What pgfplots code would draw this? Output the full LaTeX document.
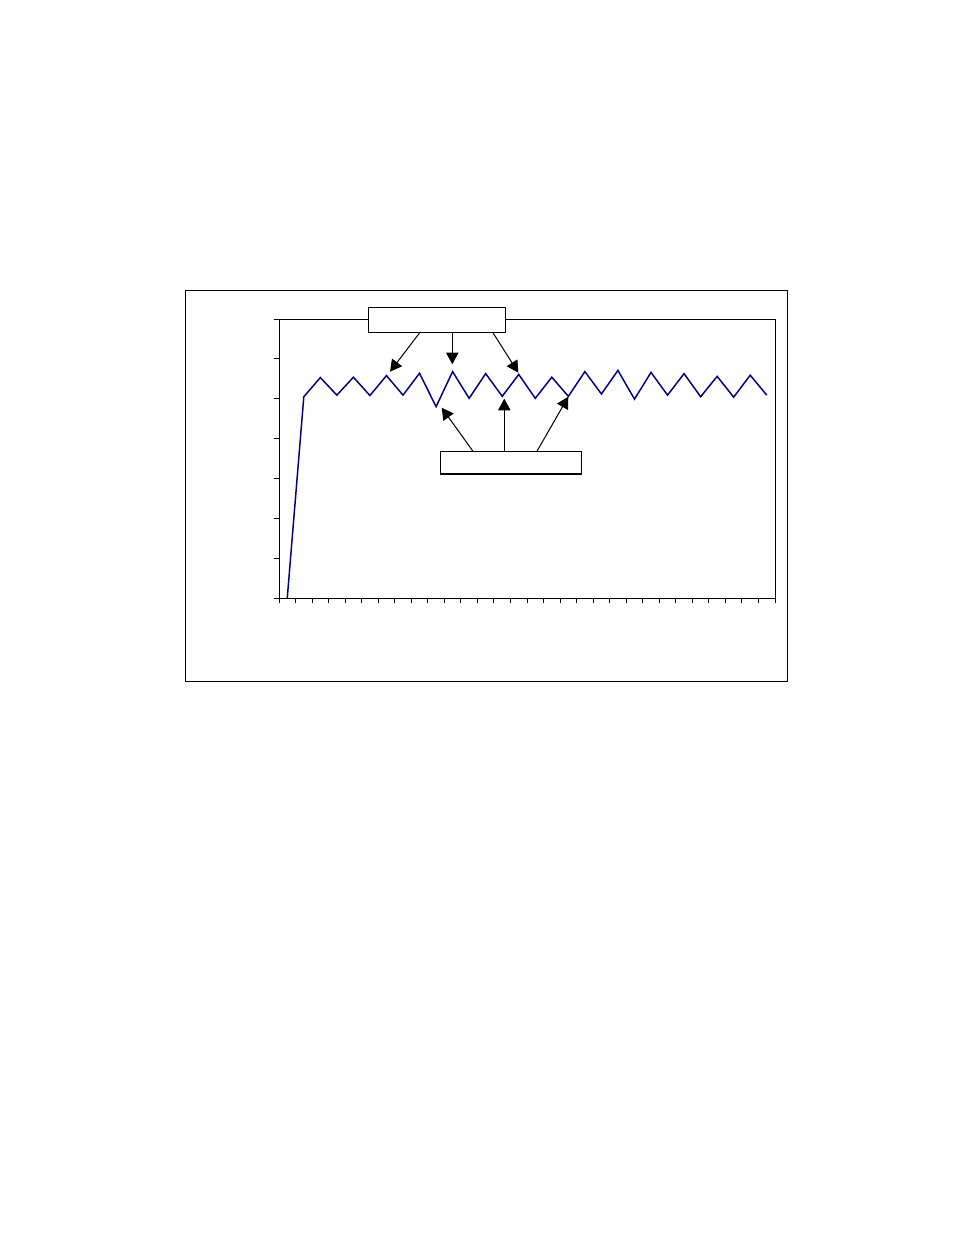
\documentclass[border=0pt]{standalone}
\usepackage{pgfplots}
\pgfplotsset{compat=1.18}
\usetikzlibrary{arrows.meta}
\definecolor{navyline}{RGB}{0,0,128}
\begin{document}
\begin{tikzpicture}
% page background and outer chart frame, in page pixels
\begin{scope}[x=0.641509bp,y=-0.641509bp]
\fill[white] (0,0) rectangle (954,1235);
\draw[line width=0.7bp] (185.5,290.5) rectangle (787.5,681.5);
\end{scope}
\begin{axis}[
at={(178.98bp,-383.62bp)},
anchor=south west,
scale only axis,
width=318.19bp,
height=178.98bp,
xmin=0, xmax=30,
ymin=0, ymax=7,
xtick={0,...,30},
ytick={0,...,7},
xticklabels={},
yticklabels={},
xtick pos=left,
ytick pos=left,
tick align=outside,
major tick length=3.5bp,
axis line style={line width=0.6bp},
every tick/.style={line width=0.6bp,black},
clip=false,
]
\addplot[navyline,line width=0.95bp] coordinates {
(0.5,0) (1.5,5.05) (2.5,5.53) (3.5,5.09) (4.5,5.54) (5.5,5.08)
(6.5,5.58) (7.5,5.09) (8.5,5.64) (9.5,4.80) (10.5,5.68) (11.5,5.01)
(12.5,5.63) (13.5,5.06) (14.5,5.61) (15.5,5.01) (16.5,5.54) (17.5,5.06)
(18.5,5.68) (19.5,5.12) (20.5,5.71) (21.5,4.99) (22.5,5.66) (23.5,5.09)
(24.5,5.63) (25.5,5.05) (26.5,5.56) (27.5,5.04) (28.5,5.59) (29.5,5.09)
};
\end{axis}
% annotation boxes and arrows, in page pixels
\begin{scope}[x=0.641509bp,y=-0.641509bp,line width=0.65bp,
  >={Triangle[length=7.5bp,width=8bp]}]
\draw[fill=white] (368.3,307.3) rectangle (505,332.3);
\draw[fill=white] (440.7,451.7) rectangle (581.3,474);
\draw[->] (420,332.3) -- (390,371.7);
\draw[->] (452.3,332.3) -- (452.3,364.3);
\draw[->] (492.7,332.3) -- (518.3,372.7);
\draw[->] (473.3,451.7) -- (441.7,407.7);
\draw[->] (504.3,451.7) -- (504.3,398.7);
\draw[->] (536.7,451.7) -- (568.3,396.7);
\end{scope}
\end{tikzpicture}
\end{document}
